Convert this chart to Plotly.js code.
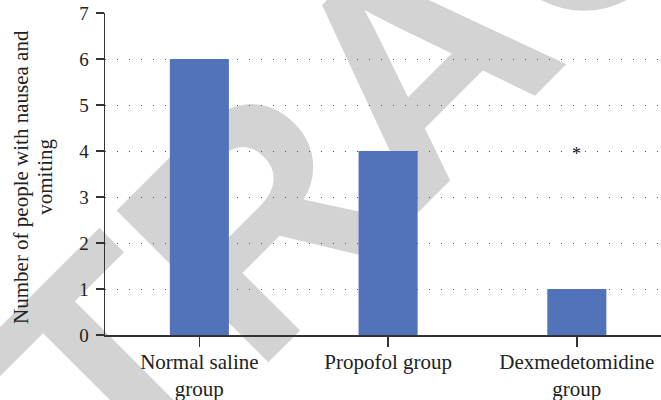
<!DOCTYPE html>
<html>
<head>
<meta charset="utf-8">
<script src="https://cdn.plot.ly/plotly-3.0.1.min.js"></script>
<style>
  html, body { margin: 0; padding: 0; background: #ffffff; }
  #wrap { position: relative; width: 661px; height: 400px; overflow: hidden; }
  #bg, #chart { position: absolute; left: 0; top: 0; width: 661px; height: 400px; }
</style>
</head>
<body>
<div id="wrap">
  <div id="bg"></div>
  <div id="chart"></div>
</div>
<script>
// ---- data ----
const categories = ['Normal saline<br>group', 'Propofol group', 'Dexmedetomidine<br>group'];
const values = [6, 4, 1];
const sigText = ['', '', '*'];
const sigY = [null, null, 4];
const yTickVals = [0, 1, 2, 3, 4, 5, 6, 7];
const yTitleLines = ['Number of people with nausea and', 'vomiting'];
const watermarkText = 'RETRACTED';

const serif = 'Liberation Serif, Times New Roman, serif';
const ink = '#222222';
const axisCol = '#333333';

// ---- background watermark (drawn beneath the chart) ----
Plotly.newPlot('bg', [], {
  width: 661, height: 400,
  margin: {l: 0, r: 0, t: 0, b: 0, pad: 0},
  paper_bgcolor: '#ffffff', plot_bgcolor: '#ffffff',
  xaxis: {visible: false}, yaxis: {visible: false},
  showlegend: false,
  annotations: [{
    xref: 'paper', yref: 'paper', x: 0.629, y: 0.846,
    xanchor: 'center', yanchor: 'middle', showarrow: false,
    text: watermarkText, textangle: -45,
    font: {family: 'Liberation Sans, Arial, sans-serif', size: 312, color: '#d3d3d3', weight: 700}
  }]
}, {staticPlot: true, displayModeBar: false});

// ---- chart ----
const bar = {
  type: 'bar', x: categories, y: values, width: 0.313,
  marker: {color: '#5272b9', line: {width: 0}}, hoverinfo: 'skip'
};

const annotations = [];
sigText.forEach((t, i) => {
  if (t && sigY[i] !== null) {
    annotations.push({
      x: categories[i], y: sigY[i], xref: 'x', yref: 'y',
      text: t, showarrow: false, xanchor: 'center', yanchor: 'middle', yshift: -3,
      font: {family: serif, size: 18, color: '#111111'}
    });
  }
});
const titleX = [-0.151, -0.108];
yTitleLines.forEach((line, i) => {
  annotations.push({
    xref: 'paper', yref: 'paper', x: titleX[i], y: 0.491,
    xanchor: 'center', yanchor: 'middle', showarrow: false,
    text: line, textangle: -90, font: {family: serif, size: 21, color: ink}
  });
});

const layout = {
  width: 661, height: 400,
  margin: {l: 105, r: 0, t: 13, b: 65, pad: 0},
  paper_bgcolor: 'rgba(0,0,0,0)', plot_bgcolor: 'rgba(0,0,0,0)',
  showlegend: false,
  xaxis: {
    type: 'category', range: [-0.5, 2.446],
    showline: true, linecolor: axisCol, linewidth: 1.5,
    ticks: 'outside', ticklen: 10, tickwidth: 1.5, tickcolor: axisCol,
    showgrid: false, zeroline: false, ticklabelstandoff: -3,
    tickfont: {family: serif, size: 21, color: ink}
  },
  yaxis: {
    range: [0, 7], tickvals: yTickVals,
    showline: true, linecolor: axisCol, linewidth: 1.5,
    ticks: 'outside', ticklen: 8, tickwidth: 1.5, tickcolor: axisCol,
    showgrid: true, gridcolor: '#555555', gridwidth: 1, griddash: '1px,11px',
    zeroline: false, ticklabelstandoff: 3,
    tickfont: {family: serif, size: 19, color: ink}
  },
  annotations: annotations
};

Plotly.newPlot('chart', [bar], layout, {staticPlot: true, displayModeBar: false});
</script>
</body>
</html>
